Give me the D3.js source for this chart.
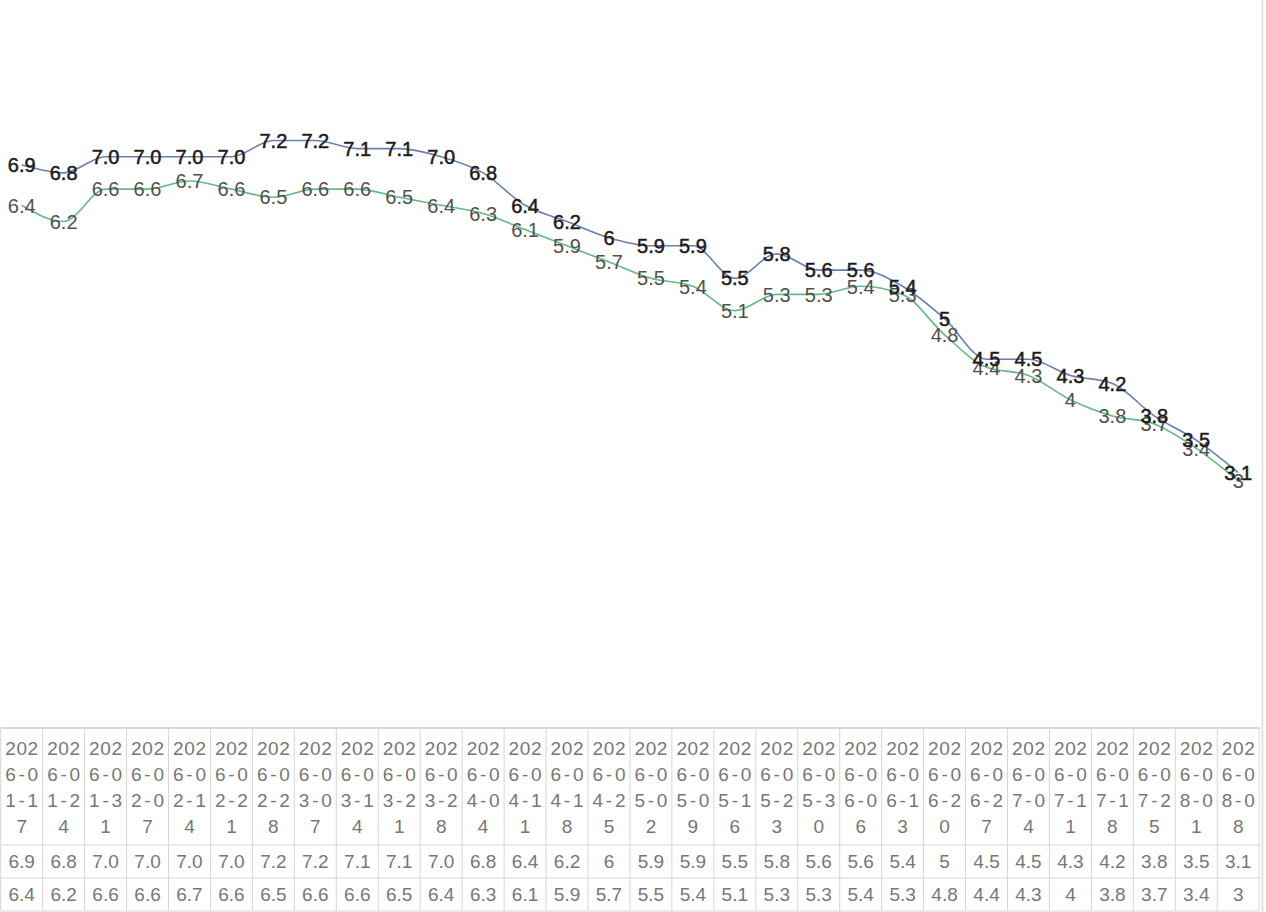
<!DOCTYPE html>
<html><head><meta charset="utf-8">
<script src="https://cdn.jsdelivr.net/npm/d3@7"></script>
<style>body{margin:0;background:#fff;overflow:hidden}</style>
</head><body>
<svg id="c" width="1266" height="912"></svg>
<script>
const dates = ["2026-01-17","2026-01-24","2026-01-31","2026-02-07","2026-02-14","2026-02-21","2026-02-28","2026-03-07","2026-03-14","2026-03-21","2026-03-28","2026-04-04","2026-04-11","2026-04-18","2026-04-25","2026-05-02","2026-05-09","2026-05-16","2026-05-23","2026-05-30","2026-06-06","2026-06-13","2026-06-20","2026-06-27","2026-07-04","2026-07-11","2026-07-18","2026-07-25","2026-08-01","2026-08-08"];
const seriesA = ["6.9","6.8","7.0","7.0","7.0","7.0","7.2","7.2","7.1","7.1","7.0","6.8","6.4","6.2","6","5.9","5.9","5.5","5.8","5.6","5.6","5.4","5","4.5","4.5","4.3","4.2","3.8","3.5","3.1"];
const seriesB = ["6.4","6.2","6.6","6.6","6.7","6.6","6.5","6.6","6.6","6.5","6.4","6.3","6.1","5.9","5.7","5.5","5.4","5.1","5.3","5.3","5.4","5.3","4.8","4.4","4.3","4","3.8","3.7","3.4","3"];

const svg = d3.select("#c");
const x = d3.scaleBand().domain(dates).range([0.7, 1259.2]).padding(0);
const y = d3.scaleLinear().domain([0, 9]).range([723.7, -5.3]);
const cx = d => x(d) + x.bandwidth() / 2;

// right border line
svg.append("line").attr("x1", 1262.5).attr("x2", 1262.5).attr("y1", 0).attr("y2", 912)
  .attr("stroke", "#dcdcdc").attr("stroke-width", 1.5);

const line = d3.line().x((d, i) => cx(dates[i])).y(d => y(+d)).curve(d3.curveMonotoneX);

const series = [
  {vals: seriesA, color: "#6b7fae", label: "#1c1c1c", weight: 1},
  {vals: seriesB, color: "#63b98c", label: "#505050", weight: 0}
];

// lines
series.slice().reverse().forEach(s => {
  svg.append("path").attr("d", line(s.vals)).attr("fill", "none")
    .attr("stroke", s.color).attr("stroke-width", 1.6);
});

// labels (series B first so A is on top)
[series[1], series[0]].forEach(s => {
  svg.append("g").selectAll("text").data(s.vals).join("text")
    .attr("x", (d, i) => cx(dates[i]))
    .attr("y", d => y(+d))
    .attr("dy", "0.36em")
    .attr("text-anchor", "middle")
    .attr("font-family", "'Liberation Sans', Arial, sans-serif")
    .attr("font-size", 20)
    .attr("fill", s.label)
    .attr("stroke", s.weight ? s.label : "none")
    .attr("stroke-width", s.weight ? 0.5 : 0)
    .text(d => d);
});

// table
const rows = [728, 845, 878, 911];
const tL = x.range()[0], tR = x.range()[1];
const tg = svg.append("g");
rows.forEach((ry, k) => {
  tg.append("line").attr("x1", tL).attr("x2", tR).attr("y1", ry).attr("y2", ry)
    .attr("stroke", "#d6d6d6").attr("stroke-width", k === 0 ? 2 : 1);
});
const bounds = dates.map(d => x(d)).concat([tR]);
tg.selectAll("line.v").data(bounds).join("line").attr("class", "v")
  .attr("x1", d => d).attr("x2", d => d).attr("y1", rows[0]).attr("y2", rows[3])
  .attr("stroke", "#d6d6d6").attr("stroke-width", 1);

const tfont = "'Liberation Sans', Arial, sans-serif";
const hdr = tg.selectAll("text.h").data(dates).join("text").attr("class", "h")
  .attr("text-anchor", "middle").attr("font-family", tfont).attr("font-size", 19).attr("fill", "#777");
hdr.each(function(d) {
  const chunks = d.match(/.{1,3}/g);
  const t = d3.select(this);
  chunks.forEach((c, k) => {
    const ts = t.append("tspan").attr("x", cx(d)).attr("y", 755 + 26 * k).text(c);
    if (c.length === 3) ts.attr("textLength", 33).attr("lengthAdjust", "spacing");
  });
});
[[seriesA, 868], [seriesB, 901]].forEach(([vals, by]) => {
  tg.append("g").selectAll("text").data(vals).join("text")
    .attr("x", (d, i) => cx(dates[i])).attr("y", by)
    .attr("text-anchor", "middle").attr("font-family", tfont).attr("font-size", 19)
    .attr("fill", "#777").text(d => d);
});
</script>
</body></html>
